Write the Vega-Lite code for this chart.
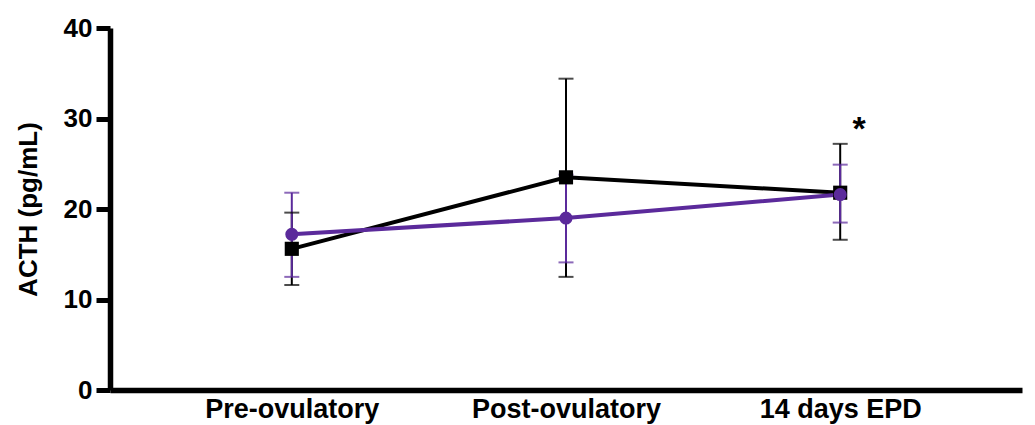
{
  "$schema": "https://vega.github.io/schema/vega-lite/v6.json",
  "autosize": "none",
  "width": 912,
  "height": 362,
  "padding": {"left": 110, "top": 28, "right": 13, "bottom": 35},
  "background": "white",
  "config": {
    "view": {"stroke": null},
    "font": "Liberation Sans",
    "axis": {"grid": false, "domainColor": "black", "tickColor": "black", "labelColor": "black", "titleColor": "black", "labelFont": "Liberation Sans", "titleFont": "Liberation Sans", "labelFontWeight": "bold", "titleFontWeight": "bold", "domainWidth": 5.5, "labelLimit": 0},
    "axisX": {"labelAngle": 0, "labelFontSize": 27, "labelPadding": 6, "ticks": false, "labelBaseline": "top"},
    "axisY": {"titleFontSize": 26, "titlePadding": 22, "labelFontSize": 26, "labelPadding": 4, "tickSize": 14, "tickWidth": 5}
  },
  "data": {
    "values": [
      {"time": "Pre-ovulatory", "group": "Group 1", "mean": 15.6, "lo": 11.6, "hi": 19.6},
      {"time": "Post-ovulatory", "group": "Group 1", "mean": 23.5, "lo": 12.5, "hi": 34.4},
      {"time": "14 days EPD", "group": "Group 1", "mean": 21.8, "lo": 16.6, "hi": 27.2},
      {"time": "Pre-ovulatory", "group": "Group 2", "mean": 17.2, "lo": 12.5, "hi": 21.8},
      {"time": "Post-ovulatory", "group": "Group 2", "mean": 19.0, "lo": 14.1, "hi": 23.8},
      {"time": "14 days EPD", "group": "Group 2", "mean": 21.6, "lo": 18.5, "hi": 24.9}
    ]
  },
  "encoding": {
    "x": {
      "field": "time", "type": "nominal",
      "scale": {"type": "point", "domain": ["Pre-ovulatory", "Post-ovulatory", "14 days EPD"], "padding": 0.663},
      "axis": {"title": null}
    },
    "color": {
      "field": "group", "type": "nominal",
      "scale": {"domain": ["Group 1", "Group 2"], "range": ["#000000", "#5b2a9b"]},
      "legend": null
    }
  },
  "layer": [
    {
      "mark": {"type": "rule", "strokeWidth": 2},
      "encoding": {
        "y": {"field": "lo", "type": "quantitative",
          "scale": {"domain": [0, 40], "nice": false},
          "axis": {"title": "ACTH (pg/mL)", "values": [0, 10, 20, 30, 40]}},
        "y2": {"field": "hi"}
      }
    },
    {
      "mark": {"type": "tick", "size": 15, "thickness": 2},
      "encoding": {"y": {"field": "lo", "type": "quantitative", "axis": {"title": "ACTH (pg/mL)", "values": [0, 10, 20, 30, 40]}}}
    },
    {
      "mark": {"type": "tick", "size": 15, "thickness": 2},
      "encoding": {"y": {"field": "hi", "type": "quantitative", "axis": {"title": "ACTH (pg/mL)", "values": [0, 10, 20, 30, 40]}}}
    },
    {
      "mark": {"type": "line", "strokeWidth": 4},
      "encoding": {"y": {"field": "mean", "type": "quantitative", "axis": {"title": "ACTH (pg/mL)", "values": [0, 10, 20, 30, 40]}}}
    },
    {
      "transform": [{"filter": "datum.group === 'Group 1'"}],
      "mark": {"type": "point", "shape": "square", "filled": true, "opacity": 1, "size": 200},
      "encoding": {"y": {"field": "mean", "type": "quantitative", "axis": {"title": "ACTH (pg/mL)", "values": [0, 10, 20, 30, 40]}}}
    },
    {
      "transform": [{"filter": "datum.group === 'Group 2'"}],
      "mark": {"type": "point", "shape": "circle", "filled": true, "opacity": 1, "size": 170},
      "encoding": {"y": {"field": "mean", "type": "quantitative", "axis": {"title": "ACTH (pg/mL)", "values": [0, 10, 20, 30, 40]}}}
    },
    {
      "data": {"values": [{"time": "14 days EPD", "y": 27.6, "label": "*"}]},
      "mark": {"type": "text", "dx": 19, "baseline": "alphabetic", "fontSize": 34, "fontWeight": "bold", "font": "Liberation Sans"},
      "encoding": {"y": {"field": "y", "type": "quantitative", "axis": {"title": "ACTH (pg/mL)", "values": [0, 10, 20, 30, 40]}}, "text": {"field": "label"}, "color": {"value": "black"}}
    }
  ]
}
